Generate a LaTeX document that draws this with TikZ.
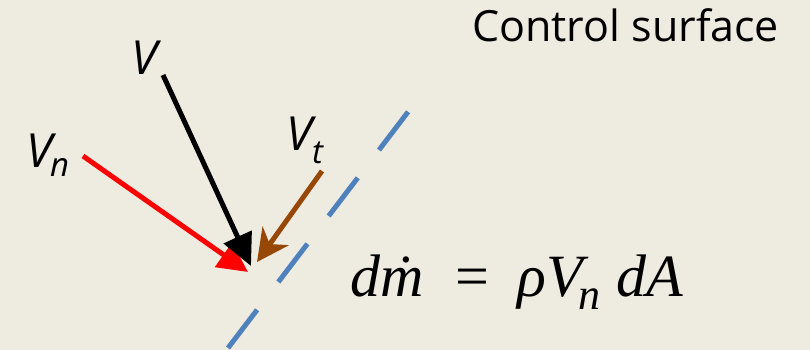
\documentclass[tikz,border=0pt]{standalone}
\usepackage{fontspec}
\setmainfont{Liberation Serif}
\newfontfamily\labfont{Open Sans}
\usetikzlibrary{arrows.meta}
\definecolor{bgc}{RGB}{238,235,224}
\definecolor{csblue}{RGB}{79,129,189}
\definecolor{vtbrown}{RGB}{151,72,6}
\tikzset{
  vec/.style={line width=5pt},
  lab/.style={inner sep=0pt, font=\labfont\itshape\fontsize{47}{50}\selectfont},
}
\begin{document}
\begin{tikzpicture}[x=1pt,y=-1pt]
\fill[bgc] (0,0) rectangle (810,350);
\useasboundingbox (0,0) rectangle (810,350);
% control surface
\coordinate (cs1) at (228,348);
\coordinate (cs2) at (411,108);
\draw[csblue, line width=5pt, dash pattern=on 48pt off 35pt] (cs1) -- (cs2);
% arrows
\coordinate (vs) at (163,75);
\coordinate (vtip) at (251,266);
\coordinate (ns) at (83,156);
\coordinate (ntip) at (248,272);
\coordinate (ts) at (322,171);
\coordinate (ttip) at (257,262);
\draw[vec, red, -{Triangle[length=30pt,width=29pt]}] (ns) -- (ntip);
\draw[vec, black, -{Triangle[length=32pt,width=30pt]}] (vs) -- (vtip);
\draw[vec, vtbrown, -{Stealth[length=32pt,width=32pt,inset=10pt]}] (ts) -- (ttip);
% labels
\node[lab, anchor=base west] (vl) at (131,75) {V};
\node[lab, anchor=base west] (vnl) at (26,167) {V\textsubscript{\kern-2pt n}};
\node[lab, anchor=base west] (vtl) at (286,150) {V\textsubscript{t}};
\node[inner sep=0pt, anchor=base west, font=\labfont\fontsize{43}{46}\selectfont] (cst) at (472,42) {Control surface};
\node[inner sep=0pt, anchor=base west, font=\fontsize{60}{64}\selectfont] (eq) at (350,296)
  {\itshape d\.{m}\hspace{32pt}\upshape=\hspace{28pt}\itshape ρV\kern-4pt\raisebox{-13pt}{\fontsize{44}{44}\selectfont n}\hspace{16pt}dA};
\end{tikzpicture}
\end{document}
